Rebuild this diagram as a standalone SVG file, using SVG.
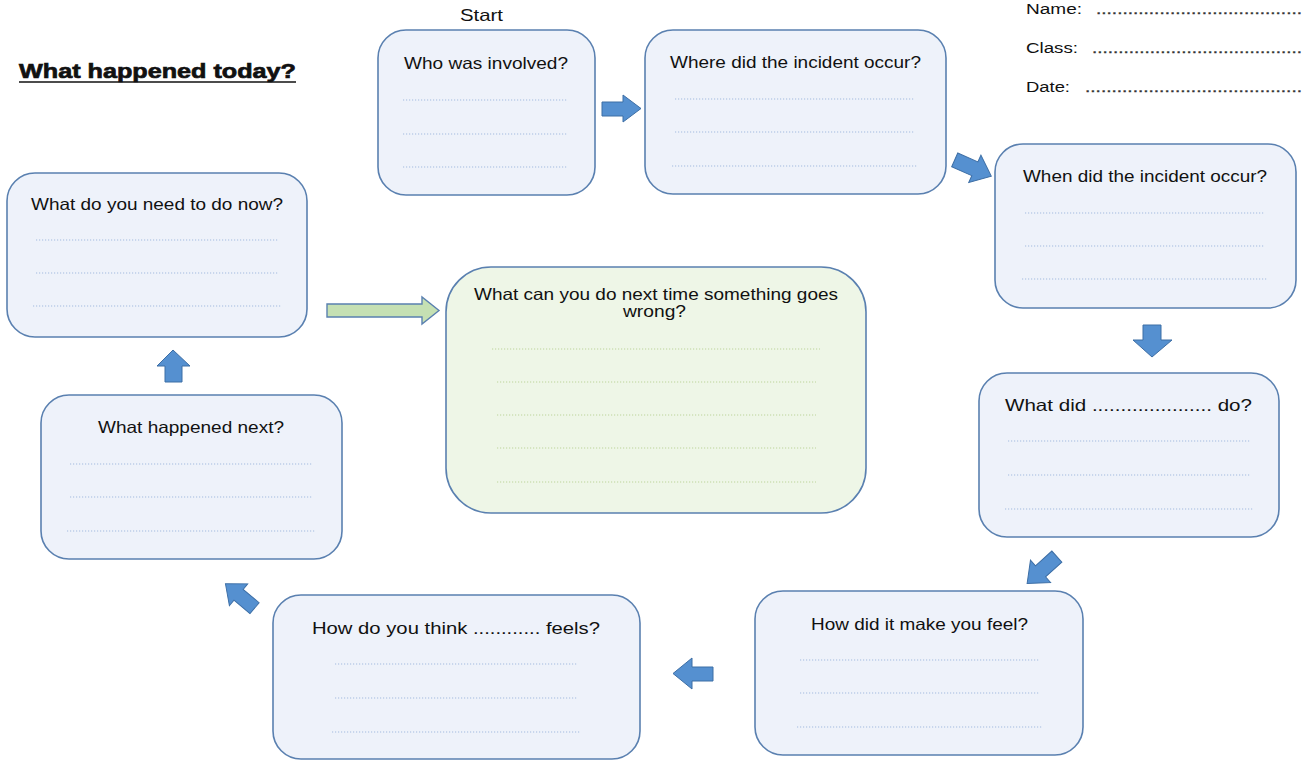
<svg xmlns="http://www.w3.org/2000/svg" width="1304" height="764" viewBox="0 0 1304 764">
<style>
text{font-family:"Liberation Sans",Arial,sans-serif;fill:#111;}
.q{font-size:16.5px;}
.hd{font-size:15.5px;}
.dots{font-size:15.5px;fill:#333;stroke:#333;stroke-width:0.35;}
.box{fill:#eef2fa;stroke:#5a80b0;stroke-width:1.6;}
.gbox{fill:#eef6e7;stroke:#5a80b0;stroke-width:1.6;}
.dl{stroke:#a3badf;stroke-width:1;stroke-dasharray:1.2 1.8;}
.gl{stroke:#bcd49a;stroke-width:1;stroke-dasharray:1.2 1.8;}
.arr{fill:#5590d0;stroke:#3d6ea5;stroke-width:1;}
.garr{fill:#c5e0b3;stroke:#5a80b0;stroke-width:1.4;}
</style>
<defs>
<polygon id="ra" points="-20,-7.5 2,-7.5 2,-15 20,0 2,15 2,7.5 -20,7.5"/>
</defs>
<rect width="1304" height="764" fill="#ffffff"/>

<g id="title">
<text x="19" y="78" font-size="21" font-weight="700" stroke="#111" stroke-width="0.7" textLength="277" lengthAdjust="spacingAndGlyphs">What happened today?</text>
<line x1="19" y1="82" x2="296" y2="82" stroke="#111" stroke-width="1.5"/>
</g>

<g id="header">
<text class="hd" x="1026" y="14" textLength="56" lengthAdjust="spacingAndGlyphs">Name:</text>
<text class="dots" x="1096" y="14" textLength="206" lengthAdjust="spacingAndGlyphs">.......................................</text>
<text class="hd" x="1026" y="53" textLength="52" lengthAdjust="spacingAndGlyphs">Class:</text>
<text class="dots" x="1092" y="53" textLength="210" lengthAdjust="spacingAndGlyphs">........................................</text>
<text class="hd" x="1026" y="92" textLength="44" lengthAdjust="spacingAndGlyphs">Date:</text>
<text class="dots" x="1085" y="92" textLength="217" lengthAdjust="spacingAndGlyphs">.........................................</text>
</g>

<g id="start-label">
<text class="q" x="460" y="21" textLength="43" lengthAdjust="spacingAndGlyphs">Start</text>
</g>

<g id="n1">
<rect class="box" x="378" y="30" width="217" height="165" rx="28"/>
<text class="q" x="404" y="69" textLength="164" lengthAdjust="spacingAndGlyphs">Who was involved?</text>
<line class="dl" x1="403" y1="100" x2="568" y2="100"/>
<line class="dl" x1="403" y1="134" x2="568" y2="134"/>
<line class="dl" x1="403" y1="167" x2="568" y2="167"/>
</g>

<g id="n2">
<rect class="box" x="645" y="30" width="301" height="164" rx="28"/>
<text class="q" x="670" y="68" textLength="251" lengthAdjust="spacingAndGlyphs">Where did the incident occur?</text>
<line class="dl" x1="675" y1="99" x2="915" y2="99"/>
<line class="dl" x1="675" y1="132" x2="915" y2="132"/>
<line class="dl" x1="672" y1="166" x2="918" y2="166"/>
</g>

<g id="n3">
<rect class="box" x="995" y="144" width="301" height="164" rx="28"/>
<text class="q" x="1023" y="182" textLength="244" lengthAdjust="spacingAndGlyphs">When did the incident occur?</text>
<line class="dl" x1="1025" y1="213" x2="1265" y2="213"/>
<line class="dl" x1="1025" y1="246" x2="1265" y2="246"/>
<line class="dl" x1="1022" y1="279" x2="1268" y2="279"/>
</g>

<g id="n4">
<rect class="box" x="979" y="373" width="300" height="164" rx="28"/>
<text class="q" x="1005" y="411" textLength="247" lengthAdjust="spacingAndGlyphs">What did ..................... do?</text>
<line class="dl" x1="1008" y1="441" x2="1250" y2="441"/>
<line class="dl" x1="1008" y1="475" x2="1250" y2="475"/>
<line class="dl" x1="1005" y1="509" x2="1253" y2="509"/>
</g>

<g id="n5">
<rect class="box" x="755" y="591" width="328" height="164" rx="28"/>
<text class="q" x="811" y="630" textLength="217" lengthAdjust="spacingAndGlyphs">How did it make you feel?</text>
<line class="dl" x1="800" y1="660" x2="1040" y2="660"/>
<line class="dl" x1="800" y1="693" x2="1040" y2="693"/>
<line class="dl" x1="797" y1="727" x2="1043" y2="727"/>
</g>

<g id="n6">
<rect class="box" x="273" y="595" width="367" height="164" rx="28"/>
<text class="q" x="312" y="634" textLength="288" lengthAdjust="spacingAndGlyphs">How do you think ............ feels?</text>
<line class="dl" x1="335" y1="664" x2="578" y2="664"/>
<line class="dl" x1="335" y1="698" x2="578" y2="698"/>
<line class="dl" x1="332" y1="732" x2="581" y2="732"/>
</g>

<g id="n7">
<rect class="box" x="41" y="395" width="301" height="164" rx="28"/>
<text class="q" x="98" y="433" textLength="186" lengthAdjust="spacingAndGlyphs">What happened next?</text>
<line class="dl" x1="70" y1="464" x2="312" y2="464"/>
<line class="dl" x1="70" y1="497" x2="312" y2="497"/>
<line class="dl" x1="67" y1="531" x2="315" y2="531"/>
</g>

<g id="n8">
<rect class="box" x="7" y="173" width="300" height="164" rx="28"/>
<text class="q" x="31" y="210" textLength="252" lengthAdjust="spacingAndGlyphs">What do you need to do now?</text>
<line class="dl" x1="36" y1="240" x2="278" y2="240"/>
<line class="dl" x1="36" y1="273" x2="278" y2="273"/>
<line class="dl" x1="33" y1="306" x2="281" y2="306"/>
</g>

<g id="n9">
<rect class="gbox" x="446" y="267" width="420" height="246" rx="45"/>
<text class="q" x="474" y="300" textLength="364" lengthAdjust="spacingAndGlyphs">What can you do next time something goes</text>
<text class="q" x="623" y="317" textLength="63" lengthAdjust="spacingAndGlyphs">wrong?</text>
<line class="gl" x1="492" y1="349" x2="820" y2="349"/>
<line class="gl" x1="497" y1="382" x2="816" y2="382"/>
<line class="gl" x1="497" y1="415" x2="816" y2="415"/>
<line class="gl" x1="497" y1="448" x2="816" y2="448"/>
<line class="gl" x1="497" y1="482" x2="816" y2="482"/>
</g>

<g id="connectors">
<polygon class="arr" points="602,102 623,102 623,95 641,108.5 623,122 623,116 602,116"/>
<use href="#ra" class="arr" transform="translate(973,168) rotate(24)"/>
<polygon class="arr" points="1143,325 1161,325 1161,340 1172,340 1152,357 1133,340 1143,340"/>
<use href="#ra" class="arr" transform="translate(1042,570) rotate(138)"/>
<polygon class="arr" points="713,667 692,667 692,658 673,673.5 692,689 692,681 713,681"/>
<use href="#ra" class="arr" transform="translate(240,596) rotate(-140) scale(0.95)"/>
<polygon class="arr" points="165,382 182,382 182,366 190,366 173,350 157,366 165,366"/>
<polygon class="garr" points="327,304 422,304 422,297 439,310.5 422,324 422,317 327,317"/>
</g>
</svg>
